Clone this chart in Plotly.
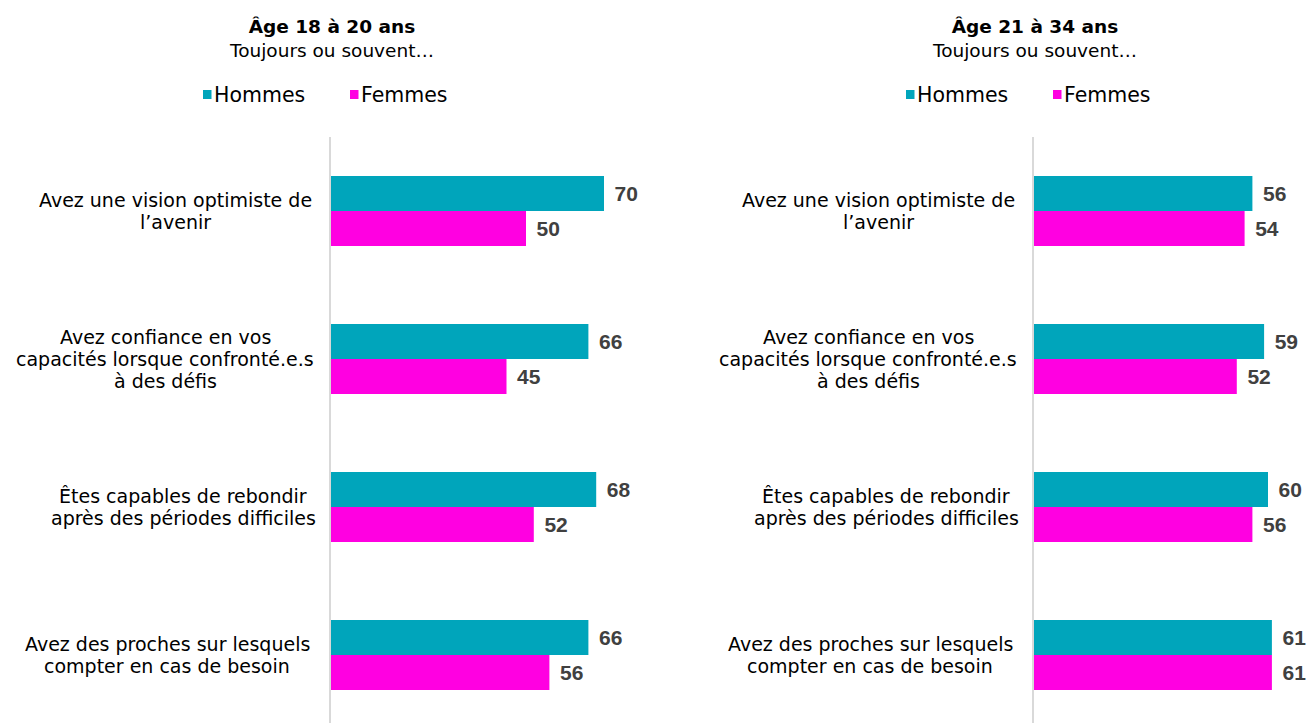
import plotly.graph_objects as go

# ---------------- data ----------------
categories = [
    "Avez une vision optimiste de<br>l’avenir",
    "Avez confiance en vos<br>capacités lorsque confronté.e.s<br>à des défis",
    "Êtes capables de rebondir<br>après des périodes difficiles",
    "Avez des proches sur lesquels<br>compter en cas de besoin",
]
series_names = ["Hommes", "Femmes"]
hommes_18_20 = [70, 66, 68, 66]
femmes_18_20 = [50, 45, 52, 56]
hommes_21_34 = [56, 59, 60, 61]
femmes_21_34 = [54, 52, 56, 61]
panel_titles = ["Âge 18 à 20 ans", "Âge 21 à 34 ans"]
panel_subtitle = "Toujours ou souvent…"

# ---------------- styles ----------------
COL_H = "#00A5BB"
COL_F = "#FF00E1"
FONT = "DejaVu Sans, Liberation Sans, Arial, sans-serif"
NUM_FONT = "Liberation Sans, Arial, Helvetica, sans-serif"
W, H = 1309, 723
PX_PER_UNIT = 3.9
XMAX = 70.2
axis_px = [331, 1034]
top_px = 137
label_offsets = [-156, -166, -148, -164]   # pixel offset of label block centre from axis
line_h = 21.7

fig = go.Figure()
panels = [(hommes_18_20, femmes_18_20), (hommes_21_34, femmes_21_34)]
annotations = []
shapes = []
for p, (h, f) in enumerate(panels):
    xa = "x" if p == 0 else "x2"
    ya = "y" if p == 0 else "y2"
    ax_paper = axis_px[p] / W
    for name, vals, col in [(series_names[0], h, COL_H), (series_names[1], f, COL_F)]:
        fig.add_trace(go.Bar(
            y=categories, x=vals, orientation="h", name=name,
            marker=dict(color=col, line=dict(width=0)),
            text=vals, texttemplate="\u00a0\u200a%{x}", textposition="outside",
            cliponaxis=False, constraintext="none",
            textfont=dict(family=NUM_FONT, size=21, color="#404040", weight="bold"),
            xaxis=xa, yaxis=ya, showlegend=False, hoverinfo="skip",
        ))
    # category labels (one annotation per line, centred)
    for i, cat in enumerate(categories):
        lines = cat.split("<br>")
        n = len(lines)
        for j, line in enumerate(lines):
            annotations.append(dict(
                x=ax_paper, xref="paper", xshift=label_offsets[i], y=cat, yref=ya,
                yshift=((n - 1) / 2 - j) * line_h, text=line, showarrow=False,
                xanchor="center", yanchor="middle",
                font=dict(family=FONT, size=19, color="#000000"),
            ))
    # title + subtitle
    annotations.append(dict(x=ax_paper, xref="paper", y=1 - 38.5 / H, yref="paper",
                            text="<b>" + panel_titles[p] + "</b><br>" + panel_subtitle,
                            showarrow=False, xanchor="center", yanchor="middle", align="center",
                            font=dict(family=FONT, size=18.5, color="#000000")))
    # legend (square + text)
    for name, col, off in [(series_names[0], COL_H, -128), (series_names[1], COL_F, 19)]:
        shapes.append(dict(type="rect", xref="paper", xsizemode="pixel", xanchor=ax_paper,
                           x0=off, x1=off + 8.5, yref="paper", ysizemode="pixel",
                           yanchor=1 - 94.5 / H, y0=-4.5, y1=4.5,
                           fillcolor=col, line=dict(width=0)))
        annotations.append(dict(x=ax_paper, xref="paper", xshift=off + 9, y=1 - 95 / H, yref="paper",
                                text=name, showarrow=False, xanchor="left", yanchor="middle",
                                font=dict(family=FONT, size=20.5, color="#000000")))

ydom = [0, (H - top_px) / H]
xcommon = dict(range=[0, XMAX], showgrid=False, zeroline=False, showticklabels=False,
               ticks="", showline=False, fixedrange=True)
ycommon = dict(type="category", range=[3.46, -0.5], domain=ydom, showgrid=False,
               zeroline=False, showticklabels=False, ticks="", showline=True,
               linecolor="#D9D9D9", linewidth=2, fixedrange=True)

fig.update_layout(
    width=W, height=H,
    margin=dict(l=0, r=0, t=0, b=0),
    paper_bgcolor="white", plot_bgcolor="white",
    barmode="group", bargap=0.527, bargroupgap=0,
    showlegend=False,
    font=dict(family=FONT, color="#000000"),
    xaxis=dict(domain=[axis_px[0] / W, (axis_px[0] + XMAX * PX_PER_UNIT) / W], anchor="y", **xcommon),
    yaxis=dict(anchor="x", **ycommon),
    xaxis2=dict(domain=[axis_px[1] / W, min(1.0, (axis_px[1] + XMAX * PX_PER_UNIT) / W)], anchor="y2", **xcommon),
    yaxis2=dict(anchor="x2", **ycommon),
    annotations=annotations,
    shapes=shapes,
)

fig.write_html(
    "out.html",
    config={"displayModeBar": False},
    post_script="document.body.style.margin='0';document.body.style.overflow='hidden';",
)
